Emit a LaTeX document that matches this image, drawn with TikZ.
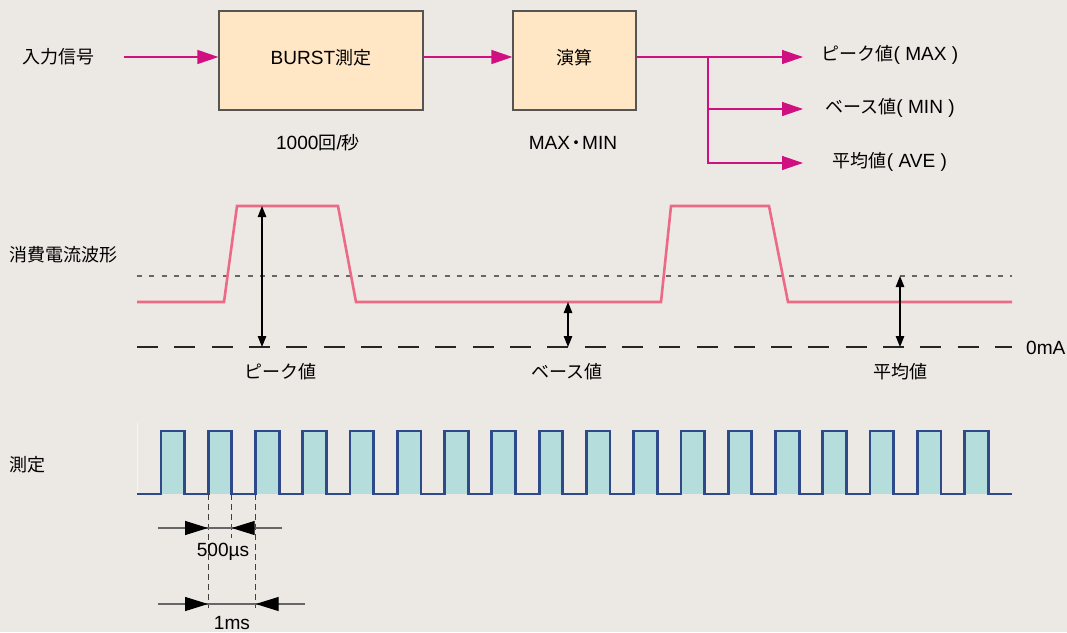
\documentclass[tikz,border=0pt]{standalone}
\usepackage{fontspec}
\setmainfont{Liberation Sans}[Scale=1.06]
\newfontfamily\jp{Noto Sans CJK JP}
\usepackage{tikz}
\usetikzlibrary{arrows.meta,positioning,calc}
\definecolor{paper}{RGB}{236,232,228}
\definecolor{boxfill}{RGB}{255,230,196}
\definecolor{boxline}{RGB}{85,85,85}
\definecolor{flowmagenta}{RGB}{208,16,128}
\definecolor{wavepink}{RGB}{236,106,134}
\definecolor{pulseblue}{RGB}{46,74,138}
\definecolor{pulseteal}{RGB}{181,221,220}

\begin{document}
\begin{tikzpicture}[x=1pt,y=-1pt,
    every node/.style={font=\fontsize{18}{22}\selectfont,inner sep=0pt},
    proc/.style={draw=boxline,line width=1.2pt,fill=boxfill,minimum height=99pt,text depth=8pt},
    flow/.style={-{Triangle[length=21pt,width=14pt]},line width=1.3pt,flowmagenta},
    wave/.style={line width=2.6pt,wavepink,line join=miter},
    span/.style={{Triangle[length=11pt,width=8.5pt]}-{Triangle[length=11pt,width=8.5pt]},line width=1.1pt},
    avgline/.style={line width=1.1pt,black!60,dash pattern=on 5pt off 7.3pt},
    zeroline/.style={line width=1.2pt,black!85,dash pattern=on 21pt off 16.3pt},
    guide/.style={line width=1pt,black!75,dash pattern=on 6pt off 4pt},
    dimline/.style={line width=1.2pt,black!60,-{Triangle[length=23pt,width=14pt,color=black]}}]
  \fill[paper] (0,0) rectangle (1067,632);

  \node[anchor=west] (input) at (22,57) {\jp 入力信号};
  \coordinate (insrc) at (124,57);
  \node[proc,minimum width=204pt] (burst) at (321,60.5) {BURST{\jp 測定}};
  \node[proc,minimum width=123pt] (calc) at (574.5,60.5) {\jp 演算};
  \node (rate) at (318,143) {1000{\jp 回}/{\jp 秒}};
  \node (mode) at (573,143) {MAX\kern-3pt{\jp ・}\kern-3pt MIN};
  \coordinate (fork) at (708,57);
  \coordinate (pk) at (803,57);
  \coordinate (bs) at (803,109);
  \coordinate (av) at (803,163);
  \node (peakout) at (890,55) {{\jp ピーク値}( MAX )};
  \node (baseout) at (890,108) {{\jp ベース値}( MIN )};
  \node (aveout) at (890,162) {{\jp 平均値}( AVE )};
  \draw[flow] (insrc) -- (insrc -| burst.west);
  \draw[flow] (burst.east |- insrc) -- (insrc -| calc.west);
  \draw[flow] (calc.east |- fork) -- (pk);
  \draw[flow] (fork) |- (bs);
  \draw[flow] (fork) |- (av);

  \node[anchor=west] (wavename) at (9,255) {\jp 消費電流波形};
  \draw[avgline] (137,276) -- (1012,276);
  \draw[zeroline] (137,347) -- (1012,347);
  \draw[wave] (137,302) -- (224,302) -- (237,206) -- (338,206) -- (356,302) -- (661,302)
    -- (671,206) -- (769,206) -- (788,302) -- (1012,302);
  \draw[span] (262,206) -- (262,347);
  \draw[span] (568,302) -- (568,347);
  \draw[span] (900,276) -- (900,347);
  \node (peaklbl) at (280,372) {\jp ピーク値};
  \node (baselbl) at (567,372) {\jp ベース値};
  \node (avelbl) at (900,372) {\jp 平均値};
  \node[anchor=west] (zero) at (1026,348) {0mA};

  \node[anchor=west] (measname) at (9,465) {\jp 測定};
  \foreach \i [evaluate=\i as \x using 161+47.27*\i] in {0,...,17}
    \fill[pulseteal] (\x,431) rectangle (\x+23.6,494);
  \draw[white!55!paper,line width=0.8pt] (137,423) -- (137,494);
  \draw[pulseblue,line width=2.8pt] (137,494)
    \foreach \i [evaluate=\i as \x using 161+47.27*\i] in {0,...,17} {
      -- (\x,494) -- (\x,431) -- (\x+23.6,431) -- (\x+23.6,494)}
    -- (1012,494);

  \draw[guide] (208,494) -- (208,608);
  \draw[guide] (231.7,494) -- (231.7,538);
  \draw[guide] (255.7,494) -- (255.7,608);
  \draw[line width=1.2pt,black!60] (158,528) -- (282,528);
  \draw[dimline] (158,528) -- (208,528);
  \draw[dimline] (282,528) -- (231.7,528);
  \draw[line width=1.2pt,black!60] (158,604) -- (305,604);
  \draw[dimline] (158,604) -- (208,604);
  \draw[dimline] (305,604) -- (255.7,604);
  \node (half) at (223,552) {500µs};
  \node (full) at (232,623) {1ms};
\end{tikzpicture}
\end{document}
